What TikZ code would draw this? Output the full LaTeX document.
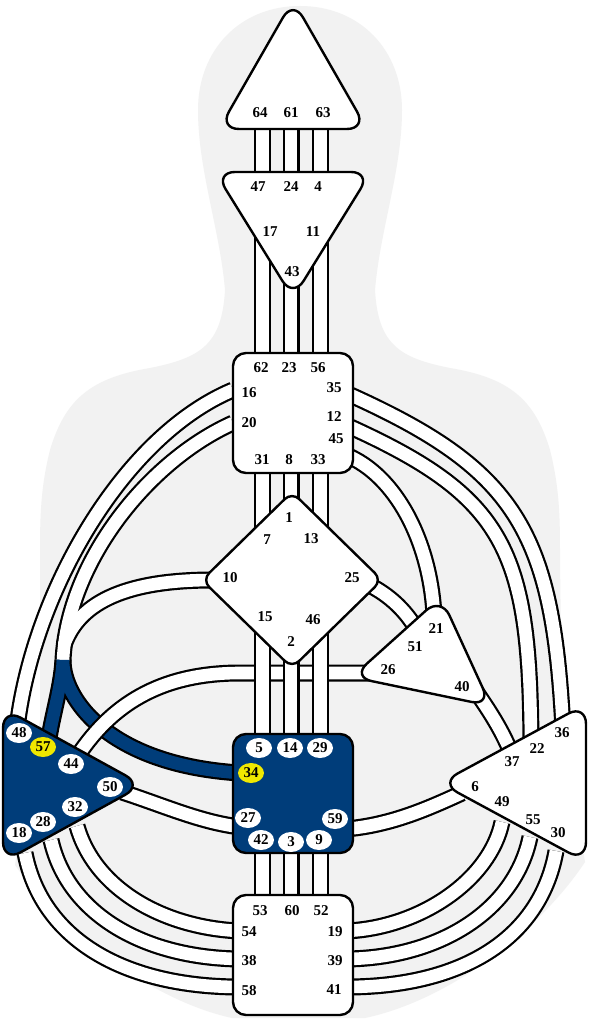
\documentclass[tikz,border=0pt]{standalone}
\usepackage{fontspec}
\setmainfont{Liberation Serif}
\usetikzlibrary{shapes.geometric}
\definecolor{hdblue}{RGB}{0,61,122}
\definecolor{hdyellow}{RGB}{240,232,0}
\definecolor{bodygrey}{RGB}{242,242,242}
\newcommand\gatefont{\fontsize{15}{15}\selectfont\bfseries}
\newcommand\chan[1]{\draw[chB] #1; \draw[chW] #1;}
\begin{document}
\begin{tikzpicture}[x=1pt,y=-1pt,
  chB/.style={draw=black,line width=17pt},
  chW/.style={draw=white,line width=12.6pt},
  chU/.style={draw=hdblue,line width=12.6pt},
  ctr/.style={draw=black,line width=2.4pt,fill=white,rounded corners=20pt,line join=round},
  ctrU/.style={ctr,fill=hdblue},
  gate/.style={font=\gatefont,inner sep=0pt},
  badge/.style={ellipse,fill=white,minimum width=26pt,minimum height=20pt,inner sep=0pt,font=\gatefont}]
\useasboundingbox (0,0) rectangle (593,1024);
\fill[white] (0,0) rectangle (593,1024);
% body silhouette
\fill[bodygrey] (300,6) .. controls (360,6) and (402,50) .. (402,110)
 .. controls (402,170) and (380,230) .. (375,290)
 .. controls (378,345) and (400,358) .. (450,368)
 .. controls (510,378) and (535,400) .. (550,450)
 .. controls (560,490) and (560,520) .. (560,560)
 -- (562,720) -- (585,862)
 .. controls (540,930) and (450,1000) .. (365,1018)
 -- (232,1018)
 .. controls (150,1000) and (60,930) .. (15,865)
 -- (40,720) -- (40,560)
 .. controls (40,520) and (40,490) .. (50,450)
 .. controls (65,400) and (90,378) .. (150,368)
 .. controls (200,358) and (222,345) .. (225,290)
 .. controls (220,230) and (198,170) .. (198,110)
 .. controls (198,50) and (240,6) .. (300,6) -- cycle;
% integration channels (20, 10, 57, 34)
\draw[chB] (233,423) .. controls (150,460) and (68,560) .. (63,660);
\draw[chB] (63,660) .. controls (61,690) and (52,715) .. (48,745);
\draw[chB] (213,580) .. controls (130,580) and (80,600) .. (64,645);
\draw[chB] (63,660) .. controls (63,700) and (110,765) .. (240,773);
\draw[chW] (233,423) .. controls (150,460) and (68,560) .. (63,660);
\draw[chW] (213,580) .. controls (130,580) and (80,600) .. (64,645);
\draw[chU] (63,660) .. controls (61,690) and (52,715) .. (48,745);
\draw[chU] (63,660) .. controls (63,700) and (110,765) .. (240,773);
% 16-48
\chan{(233,390) .. controls (123,436) and (33,592) .. (17,728)}
% 26-44
\chan{(378,673) -- (240,673) .. controls (160,673) and (110,705) .. (75,760)}
% 25-51
\chan{(365,583) .. controls (385,592) and (405,608) .. (418,632)}
% 45-21
\chan{(346,455) .. controls (395,475) and (430,540) .. (434,615)}
% 12-22
\chan{(346,425) .. controls (506,497) and (530,550) .. (531,745)}
% 35-36
\chan{(346,393) .. controls (516,469) and (553,530) .. (563,730)}
% 40-37
\chan{(475,690) .. controls (490,712) and (502,730) .. (512,755)}
% 27-50
\chan{(122,792) .. controls (165,806) and (200,822) .. (240,827)}
% 59-6
\chan{(346,829) .. controls (390,825) and (425,810) .. (462,793)}
% spleen to root
\chan{(77,826) .. controls (95,890) and (165,928) .. (240,931)}
\chan{(51,840) .. controls (68,915) and (145,958) .. (240,959)}
\chan{(25,853) .. controls (42,940) and (125,987) .. (240,987)}
% solar plexus to root
\chan{(502,822) .. controls (490,880) and (420,928) .. (346,931)}
\chan{(530,837) .. controls (515,910) and (440,958) .. (346,959)}
\chan{(556,851) .. controls (540,940) and (460,987) .. (346,987)}
% vertical channels
\foreach \x in {262.5,291,320.5}{
  \chan{(\x,110) -- (\x,190)}
  \chan{(\x,200) -- (\x,380)}
  \chan{(\x,455) -- (\x,560)}
  \chan{(\x,600) -- (\x,760)}
  \chan{(\x,830) -- (\x,920)}
}
% centers
\draw[ctr] (293,129) -- (367,129) -- (293,0) -- (219,129) -- cycle;
\draw[ctr] (293,172) -- (371,172) -- (293,298) -- (215,172) -- cycle;
\draw[ctr,rounded corners=13pt] (233,353) rectangle (353,473);
\draw[ctr,rounded corners=10pt] (247,536) -- (292,492) -- (382,580) -- (292,668) -- (202,580) -- cycle;
\draw[ctr] (396.5,637) -- (441,597) -- (491,706) -- (352,677) -- cycle;
\draw[ctrU,rounded corners=13pt] (233,734) rectangle (353,853);
\draw[ctr,rounded corners=13pt] (233,895) rectangle (353,1015);
\draw[ctrU] (3,785) -- (3,708) -- (143,785) -- (3,862) -- cycle;
\draw[ctr] (586,783) -- (586,862) -- (440,783) -- (586,704) -- cycle;
% gate labels
\foreach \n/\x/\y in {64/260/113,61/291/113,63/323/113,
  47/258/187,24/291/187,4/318/187,17/270/232,11/313/232,43/292/272,
  62/261/368,23/289/368,56/318/368,16/249/393,35/334/388,20/249/423,12/334/417,45/336/439,31/262/460,8/289/460,33/318/460,
  1/289/518,7/267/540,13/311/539,10/230/578,25/352/578,15/265/617,46/313/620,2/291/642,
  21/436/629,51/415/647,26/388/670,40/462/687,
  36/562/733,22/537/749,37/512/762,6/475/787,49/502/802,55/533/820,30/558/833,
  53/260/911,60/292/911,52/321/911,54/249/932,19/335/932,38/249/961,39/335/961,58/249/991,41/334/990}
  {\node[gate] (g\n) at (\x,\y) {\n};}
\foreach \n/\x/\y in {5/259/748,14/290/748,29/320/748,27/248/818,59/335/819,42/261/840,3/291/842,9/319/840,
  48/19/733,44/71/764,50/110/787,32/75/807,28/43/822,18/19/833}
  {\node[badge] (g\n) at (\x,\y) {\n};}
\node[badge,fill=hdyellow] (g34) at (251,773) {34};
\node[badge,fill=hdyellow] (g57) at (43,747) {57};
\end{tikzpicture}
\end{document}
